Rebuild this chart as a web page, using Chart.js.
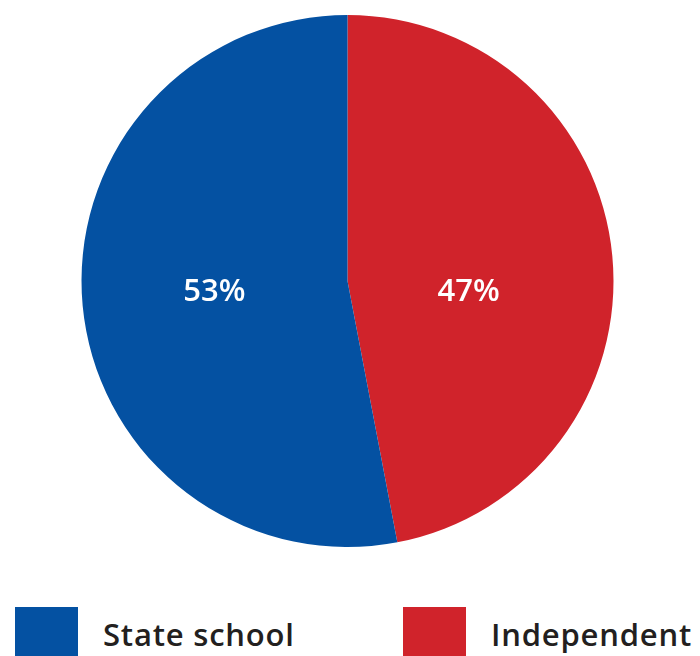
<!DOCTYPE html>
<html>
<head>
<meta charset="utf-8">
<script src="https://cdn.jsdelivr.net/npm/chart.js@4.4.0/dist/chart.umd.min.js"></script>
<style>
  html, body { margin: 0; padding: 0; background: #fff; }
  #wrap { position: relative; width: 700px; height: 656px; overflow: hidden; }
  #box { position: absolute; left: 0; top: 0; width: 700px; height: 600px; }
  .leg { position: absolute; top: 607px; display: flex; align-items: center; white-space: nowrap; }
  .leg .sw { width: 63px; height: 52px; }
  .leg span { font-family: 'Open Sans', sans-serif; font-weight: 600; font-size: 31px; letter-spacing: 0.8px; color: #231f20; margin-left: 25px; margin-top: 2px; }
</style>
</head>
<body>
<div id="wrap">
  <div id="box"><canvas id="pie"></canvas></div>
</div>
<script>
// Slices drawn clockwise from 12 o'clock
const categories = ['Independent', 'State school'];
const shares = [47, 53];
const colours = ['#d0232b', '#0451a2'];

// Legend reads left to right in this order
const legendOrder = ['State school', 'Independent'];
const legendLeft = [15, 403];

// Percent labels inside each slice, on one line just under the centre
const sliceLabels = {
  id: 'sliceLabels',
  afterDatasetsDraw(chart) {
    const ctx = chart.ctx;
    const meta = chart.getDatasetMeta(0);
    ctx.save();
    ctx.fillStyle = '#fff';
    ctx.font = '600 31px "Open Sans", sans-serif';
    ctx.textAlign = 'center';
    ctx.textBaseline = 'middle';
    meta.data.forEach((arc, i) => {
      const p = arc.getProps(['x', 'y', 'startAngle', 'endAngle', 'outerRadius']);
      const mid = (p.startAngle + p.endAngle) / 2;
      const r = p.outerRadius * 0.48;
      ctx.fillText(shares[i] + '%', p.x + Math.cos(mid) * r - 6, p.y + 11);
    });
    ctx.restore();
  }
};

new Chart(document.getElementById('pie').getContext('2d'), {
  type: 'pie',
  data: {
    labels: categories,
    datasets: [{
      data: shares,
      backgroundColor: colours,
      borderWidth: 0
    }]
  },
  options: {
    responsive: true,
    maintainAspectRatio: false,
    animation: false,
    layout: { padding: { top: 15, bottom: 53, left: 0, right: 5 } },
    plugins: {
      legend: { display: false },
      tooltip: { enabled: false }
    }
  },
  plugins: [sliceLabels]
});

// Legend built from the same arrays
const wrap = document.getElementById('wrap');
legendOrder.forEach((name, k) => {
  const i = categories.indexOf(name);
  const item = document.createElement('div');
  item.className = 'leg';
  item.style.left = legendLeft[k] + 'px';
  item.innerHTML = '<div class="sw" style="background:' + colours[i] + '"></div><span>' + name + '</span>';
  wrap.appendChild(item);
});
</script>
</body>
</html>
